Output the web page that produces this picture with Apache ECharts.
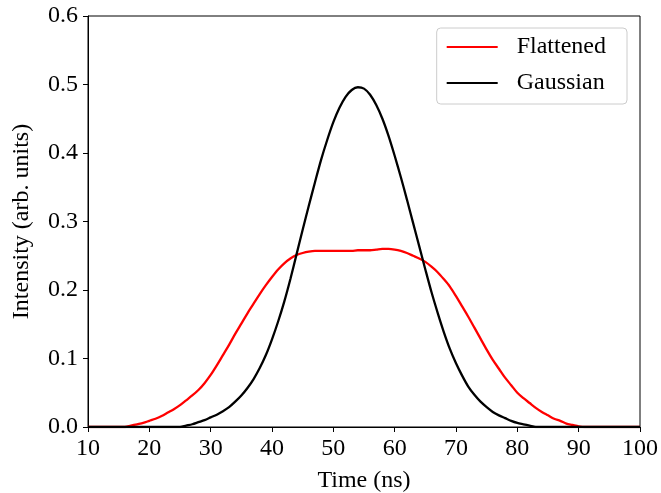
<!DOCTYPE html>
<html>
<head>
<meta charset="utf-8">
<script src="https://cdn.jsdelivr.net/npm/echarts@6/dist/echarts.min.js"></script>
<style>
  html, body { margin: 0; padding: 0; background: #fff; }
  #chart { width: 661px; height: 493px; }
</style>
</head>
<body>
<div id="chart"></div>
<script>
// Sample times (ns), one per 1 ns bin, 10 .. 100
const timeStart = 10;
const timeEnd = 100;

// Flattened pulse intensity, starting at t = 10 ns
const flattened = [
  0, 0, 0, 0, 0, 0, 0, 0.002, 0.004, 0.006,            // 10-19
  0.009, 0.012, 0.016, 0.021, 0.026, 0.032, 0.039, 0.046, 0.054, 0.064, // 20-29
  0.076, 0.090, 0.105, 0.120, 0.136, 0.151, 0.166, 0.180, 0.194, 0.207, // 30-39
  0.219, 0.230, 0.239, 0.246, 0.251, 0.254, 0.256, 0.257, 0.257, 0.257, // 40-49
  0.257, 0.257, 0.257, 0.257, 0.258, 0.258, 0.258, 0.259, 0.260, 0.260, // 50-59
  0.259, 0.257, 0.254, 0.250, 0.246, 0.241, 0.234, 0.226, 0.216, 0.205, // 60-69
  0.191, 0.176, 0.161, 0.145, 0.129, 0.113, 0.098, 0.085, 0.072, 0.061, // 70-79
  0.050, 0.042, 0.035, 0.028, 0.022, 0.017, 0.012, 0.009, 0.005, 0.003, // 80-89
  0.001, 0, 0, 0, 0, 0, 0, 0, 0, 0,                    // 90-99
  0                                                    // 100
];

// Gaussian pulse intensity, starting at t = 10 ns
const gaussian = [
  0, 0, 0, 0, 0, 0, 0, 0, 0, 0,                        // 10-19
  0, 0, 0, 0, 0, 0, 0.002, 0.004, 0.007, 0.010,        // 20-29
  0.014, 0.018, 0.023, 0.029, 0.037, 0.046, 0.057, 0.070, 0.086, 0.105, // 30-39
  0.128, 0.154, 0.183, 0.216, 0.252, 0.288, 0.323, 0.357, 0.390, 0.419, // 40-49
  0.445, 0.466, 0.482, 0.492, 0.496, 0.494, 0.485, 0.470, 0.450, 0.425, // 50-59
  0.396, 0.365, 0.332, 0.298, 0.264, 0.230, 0.197, 0.167, 0.139, 0.114, // 60-69
  0.093, 0.075, 0.059, 0.047, 0.037, 0.029, 0.022, 0.017, 0.013, 0.009, // 70-79
  0.006, 0.004, 0.002, 0, 0, 0, 0, 0, 0, 0,            // 80-89
  0, 0, 0, 0, 0, 0, 0, 0, 0, 0,                        // 90-99
  0                                                    // 100
];

const seriesNames = ['Flattened', 'Gaussian'];
const seriesColors = ['#ff0000', '#000000'];

function toPairs(values) {
  return values.map((v, i) => [timeStart + i, v]);
}

const FONT = '"Liberation Serif", "Times New Roman", serif';
const FONT_SIZE = 24;

const chart = echarts.init(document.getElementById('chart'), null, { renderer: 'canvas' });

chart.setOption({
  animation: false,
  backgroundColor: '#ffffff',
  textStyle: { fontFamily: FONT, color: '#000' },
  grid: {
    left: 88, right: 21, top: 16, bottom: 66,
    outerBoundsMode: 'none', containLabel: false,
    show: true, borderColor: '#000', borderWidth: 1, backgroundColor: 'transparent'
  },
  legend: {
    orient: 'vertical',
    right: 34, top: 28,
    data: seriesNames,
    icon: 'rect',
    itemWidth: 51, itemHeight: 2,
    itemGap: 12,
    padding: [7, 21, 9, 10],
    backgroundColor: '#fff',
    borderColor: '#cccccc', borderWidth: 1, borderRadius: 4,
    textStyle: { fontFamily: FONT, fontSize: FONT_SIZE, color: '#000', padding: [0, 0, 0, 14] }
  },
  xAxis: {
    type: 'value',
    min: timeStart, max: timeEnd, interval: 10,
    name: 'Time (ns)', nameLocation: 'middle', nameGap: 42,
    nameTextStyle: { fontFamily: FONT, fontSize: FONT_SIZE, color: '#000' },
    axisLine: { show: true, onZero: false, lineStyle: { color: '#000', width: 1 } },
    axisTick: { show: true, inside: false, length: 5, lineStyle: { color: '#000', width: 1 } },
    axisLabel: { fontFamily: FONT, fontSize: FONT_SIZE, color: '#000', margin: 10 },
    splitLine: { show: false }
  },
  yAxis: {
    type: 'value',
    min: 0, max: 0.6, interval: 0.1,
    name: 'Intensity (arb. units)', nameLocation: 'middle', nameGap: 54,
    nameTextStyle: { fontFamily: FONT, fontSize: FONT_SIZE, color: '#000' },
    axisLine: { show: true, lineStyle: { color: '#000', width: 1 } },
    axisTick: { show: true, inside: false, length: 5, lineStyle: { color: '#000', width: 1 } },
    axisLabel: { fontFamily: FONT, fontSize: FONT_SIZE, color: '#000', margin: 10,
      formatter: v => v.toFixed(1) },
    splitLine: { show: false }
  },
  series: [
    {
      name: seriesNames[0], type: 'line', data: toPairs(flattened),
      showSymbol: false, symbol: 'none', clip: true, smooth: 0.3,
      color: seriesColors[0],
      lineStyle: { color: seriesColors[0], width: 2.3 }
    },
    {
      name: seriesNames[1], type: 'line', data: toPairs(gaussian),
      showSymbol: false, symbol: 'none', clip: true, smooth: 0.3,
      color: seriesColors[1],
      lineStyle: { color: seriesColors[1], width: 2.3 }
    }
  ]
});
</script>
</body>
</html>
